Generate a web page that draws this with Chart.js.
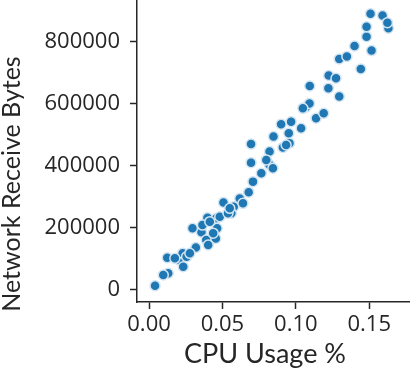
<!DOCTYPE html>
<html>
<head>
<meta charset="utf-8">
<script src="https://cdn.jsdelivr.net/npm/chart.js@4.4.0/dist/chart.umd.min.js"></script>
<style>
    html, body { margin: 0; padding: 0; background: #fff; }
    #wrap { width: 410px; height: 370px; }
</style>
</head>
<body>
<div id="wrap"><canvas id="scatterChart" width="410" height="370"></canvas></div>
<script>
// values
const cpuUsage = [
    0.0041, 0.0131, 0.0206, 0.0229, 0.0124, 0.0319, 0.0357, 0.0398, 0.0459, 0.0296,
    0.0390, 0.0455, 0.0464, 0.0507, 0.0577, 0.0561, 0.0618, 0.0679, 0.0708, 0.0765,
    0.0695, 0.0695, 0.0821, 0.0821, 0.0848, 0.0912, 0.0957, 0.0952, 0.0900, 0.0968,
    0.1036, 0.1070, 0.1093, 0.1095, 0.1138, 0.1190, 0.1222, 0.1224, 0.1274, 0.1296,
    0.1296, 0.1348, 0.1400, 0.1443, 0.1482, 0.1482, 0.1509, 0.1516, 0.1591, 0.1631,
    0.1624, 0.0097, 0.0176, 0.0256, 0.0278, 0.0233, 0.0364, 0.0414, 0.0437, 0.0403,
    0.0482, 0.0538, 0.0550, 0.0640, 0.0799, 0.0844, 0.0934, 0.1048
];
const netReceiveBytes = [
    14000, 53700, 96700, 118000, 104000, 137000, 186000, 233000, 231000, 199000,
    161000, 166000, 199000, 282000, 268000, 247000, 295000, 315000, 349000, 376000,
    410000, 470000, 403000, 446000, 494000, 459000, 473000, 505000, 534000, 542000,
    521000, 589000, 601000, 657000, 553000, 569000, 650000, 691000, 682000, 623000,
    744000, 752000, 786000, 712000, 816000, 848000, 890000, 771000, 884000, 843000,
    861000, 48300, 102000, 107000, 118000, 75000, 209000, 220000, 183000, 145000,
    236000, 247000, 263000, 279000, 419000, 392000, 467000, 585000
];
const xTicks = [0, 0.05, 0.10, 0.15];
const yTicks = [0, 200000, 400000, 600000, 800000];
const xTitle = "CPU Usage %";
const yTitle = "Network Receive Bytes";

const points = cpuUsage.map((x, i) => ({ x: x, y: netReceiveBytes[i] }));

const textColor = "#262626";
const axisColor = "#262626";
const tickFont = "'Open Sans', 'Liberation Sans', sans-serif";
const titleFont = "Lato, 'Open Sans', sans-serif";

// axis titles drawn by hand so they sit where the reference has them
const axisTitles = {
    id: "axisTitles",
    afterDraw(chart) {
        const c = chart.ctx;
        c.save();
        c.fillStyle = textColor;
        c.textAlign = "center";
        c.textBaseline = "alphabetic";
        c.font = "27px " + titleFont;
        c.fillText(xTitle, 265, 363);
        c.font = "25px " + titleFont;
        c.translate(20, 184);
        c.rotate(-Math.PI / 2);
        c.fillText(yTitle, 0, 0);
        c.restore();
    }
};

const ctx = document.getElementById("scatterChart").getContext("2d");

new Chart(ctx, {
    type: "scatter",
    data: {
        datasets: [{
            data: points,
            backgroundColor: "#1f77b4",
            borderColor: "#d4e5f2",
            borderWidth: 1.5,
            pointRadius: 5,
            pointHoverRadius: 5,
            clip: false
        }]
    },
    options: {
        responsive: false,
        animation: false,
        layout: { padding: 0, autoPadding: false },
        plugins: {
            legend: { display: false },
            tooltip: { enabled: false }
        },
        scales: {
            x: {
                type: "linear",
                min: -0.0082,
                max: 0.1778,
                afterBuildTicks: (scale) => { scale.ticks = xTicks.map(v => ({ value: v })); },
                afterFit: (scale) => {
                    scale.height = 68;
                    scale.paddingLeft = 0;
                    scale.paddingRight = 0;
                },
                grid: {
                    display: true,
                    drawOnChartArea: false,
                    drawTicks: true,
                    tickLength: 7,
                    tickWidth: 1.5,
                    tickColor: axisColor
                },
                border: { display: true, color: axisColor, width: 1.5 },
                ticks: {
                    color: textColor,
                    padding: 3,
                    maxRotation: 0,
                    font: { family: tickFont, size: 22 },
                    callback: (v) => v.toFixed(2)
                },
                title: { display: false }
            },
            y: {
                type: "linear",
                min: -38700,
                max: 934000,
                afterBuildTicks: (scale) => { scale.ticks = yTicks.map(v => ({ value: v })); },
                afterFit: (scale) => {
                    scale.width = 137;
                    scale.paddingTop = 0;
                    scale.paddingBottom = 0;
                },
                grid: {
                    display: true,
                    drawOnChartArea: false,
                    drawTicks: true,
                    tickLength: 7,
                    tickWidth: 1.5,
                    tickColor: axisColor
                },
                border: { display: true, color: axisColor, width: 1.5 },
                ticks: {
                    color: textColor,
                    padding: 10,
                    font: { family: tickFont, size: 22 },
                    callback: (v) => String(v)
                },
                title: { display: false }
            }
        }
    },
    plugins: [axisTitles]
});
</script>
</body>
</html>
